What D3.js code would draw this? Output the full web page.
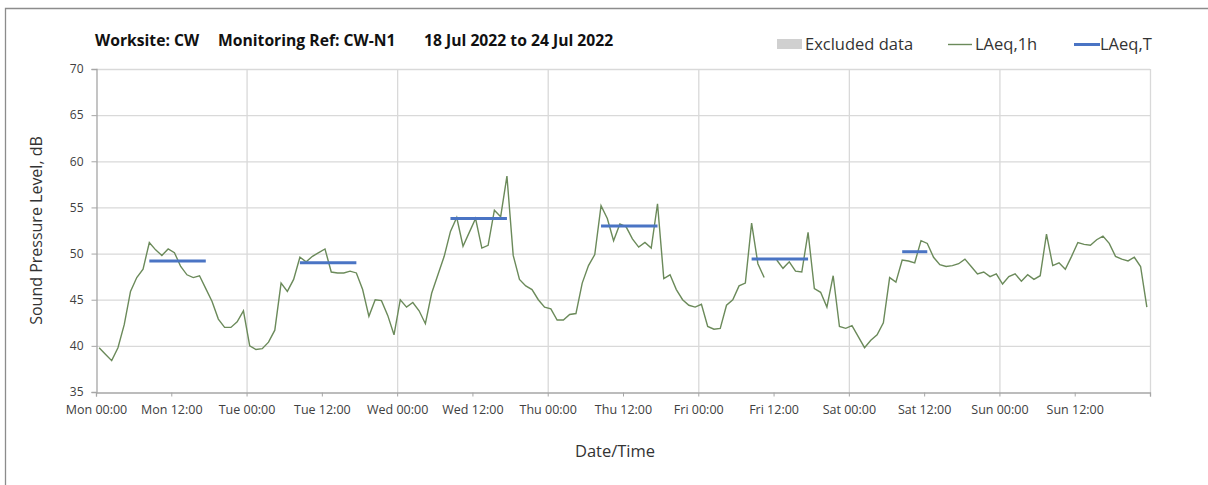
<!DOCTYPE html>
<html lang="en">
<head>
<meta charset="utf-8">
<title>CW-N1 Sound Pressure Level</title>
<script src="https://d3js.org/d3.v7.min.js"></script>
<style>
body { margin: 0; background: #fff; }
text { font-family: "Open Sans", sans-serif; }
</style>
</head>
<body>
<div id="plot"></div>
<script>
// LAeq,1h for each hour 00:00 .. 23:00, one array per day (null = no data)
var mon = [39.8, 39.1, 38.4, 39.8, 42.3, 45.9, 47.4, 48.3, 51.2, 50.4, 49.8, 50.5, 50.1, 48.6, 47.7, 47.4, 47.6, 46.2, 44.8, 42.9, 42.0, 42.0, 42.6, 43.8];
var tue = [40.0, 39.6, 39.7, 40.4, 41.7, 46.8, 45.9, 47.2, 49.6, 49.1, 49.7, 50.1, 50.5, 48.0, 47.9, 47.9, 48.1, 47.9, 46.1, 43.2, 45.0, 44.9, 43.3, 41.2];
var wed = [45.0, 44.2, 44.7, 43.8, 42.4, 45.7, 47.7, 49.7, 52.4, 53.9, 50.8, 52.3, 53.8, 50.6, 50.9, 54.7, 54.0, 58.4, 49.8, 47.2, 46.5, 46.1, 45.0, 44.2];
var thu = [44.0, 42.8, 42.8, 43.4, 43.5, 46.8, 48.7, 49.9, 55.2, 53.8, 51.4, 53.2, 52.9, 51.6, 50.7, 51.2, 50.6, 55.4, 47.3, 47.7, 46.1, 45.0, 44.4, 44.2];
var fri = [44.5, 42.1, 41.8, 41.9, 44.4, 45.0, 46.5, 46.8, 53.3, 48.9, 47.4, null, 49.3, 48.4, 49.1, 48.1, 48.0, 52.3, 46.2, 45.8, 44.2, 47.6, 42.1, 41.9];
var sat = [42.2, 41.0, 39.8, 40.6, 41.2, 42.5, 47.4, 46.9, 49.3, 49.2, 49.0, 51.4, 51.1, 49.6, 48.8, 48.6, 48.7, 48.9, 49.4, 48.6, 47.8, 48.0, 47.5, 47.8];
var sun = [46.7, 47.5, 47.8, 47.0, 47.7, 47.2, 47.6, 52.1, 48.7, 49.0, 48.3, 49.7, 51.2, 51.0, 50.9, 51.5, 51.9, 51.1, 49.7, 49.4, 49.2, 49.6, 48.6, 44.2];
var week = [mon, tue, wed, thu, fri, sat, sun];

// LAeq,T over the daytime period (day index from Monday, start/end hour)
var periodDay = [0, 1, 2, 3, 4, 5];
var periodStart = [8, 8, 8, 8, 8, 8];
var periodEnd = [18, 18, 18, 18, 18, 13];
var periodLevel = [49.2, 49.0, 53.8, 53.0, 49.4, 50.2];

// no excluded periods this week
var excluded = [];

var yTicks = [35, 40, 45, 50, 55, 60, 65, 70];

var width = 1208, height = 485;
var plotL = 96, plotR = 1150, plotT = 69, plotB = 392;

var svg = d3.select("#plot").append("svg")
  .attr("width", width).attr("height", height);

// frame
svg.append("path")
  .attr("d", "M5.5," + height + "V8.5H" + width)
  .attr("fill", "none").attr("stroke", "#8c8c8c").attr("stroke-width", 1.3);

var t0 = new Date(2022, 6, 18, 0, 0);
var t1 = new Date(2022, 6, 25, 0, 0);
var x = d3.scaleTime().domain([t0, t1]).range([plotL, plotR]);
var y = d3.scaleLinear().domain([35, 70]).range([plotB, plotT]);

// points sit in the middle of each hour
function hourMid(day, h) {
  return d3.timeMinute.offset(t0, (day * 24 + h) * 60 + 30);
}

var pts = [];
week.forEach(function(vals, d) {
  vals.forEach(function(v, h) {
    pts.push({t: hourMid(d, h), v: v});
  });
});

// grid
var grid = svg.append("g");
grid.selectAll("line.h")
  .data(yTicks.slice(1))
  .enter().append("line")
  .attr("x1", plotL).attr("x2", plotR)
  .attr("y1", d => y(d) + 0.5).attr("y2", d => y(d) + 0.5)
  .attr("stroke", "#d9d9d9").attr("stroke-width", 1.3);
grid.selectAll("line.v")
  .data(d3.timeDay.range(d3.timeDay.offset(t0, 1), d3.timeDay.offset(t1, 1)))
  .enter().append("line")
  .attr("x1", d => x(d) + 0.5).attr("x2", d => x(d) + 0.5)
  .attr("y1", plotT).attr("y2", plotB)
  .attr("stroke", "#d9d9d9").attr("stroke-width", 1.3);

// excluded data shading
svg.selectAll("rect.excl")
  .data(excluded)
  .enter().append("rect")
  .attr("x", d => x(d[0])).attr("width", d => x(d[1]) - x(d[0]))
  .attr("y", plotT).attr("height", plotB - plotT)
  .attr("fill", "#d0d0d0");

// y axis
var yAxis = svg.append("g")
  .attr("transform", "translate(" + (plotL + 0.5) + ",0)")
  .call(d3.axisLeft(y).tickValues(yTicks).tickSize(5).tickPadding(8));
yAxis.select(".domain").attr("stroke", "#a6a6a6").attr("stroke-width", 1.3);
yAxis.selectAll(".tick line").attr("stroke", "#a6a6a6");
yAxis.selectAll(".tick text")
  .attr("font-family", "Lato, sans-serif").attr("font-size", 12).attr("fill", "#404040");

// x axis
var xTicks = d3.timeHour.every(12).range(t0, d3.timeHour.offset(t1, 1));
var xAxis = svg.append("g")
  .attr("transform", "translate(0," + (plotB + 0.5) + ")")
  .call(d3.axisBottom(x).tickValues(xTicks).tickSize(4).tickPadding(9)
    .tickFormat(d => +d === +t1 ? "" : d3.timeFormat("%a %H:%M")(d)));
xAxis.select(".domain").attr("stroke", "#a6a6a6").attr("stroke-width", 1.3);
xAxis.selectAll(".tick line").attr("stroke", "#a6a6a6");
xAxis.selectAll(".tick text")
  .attr("font-family", "Lato, sans-serif").attr("font-size", 12.5).attr("fill", "#404040");

// LAeq,1h
var line = d3.line()
  .defined(d => d.v != null)
  .x(d => x(d.t)).y(d => y(d.v));
svg.append("path")
  .datum(pts)
  .attr("d", line)
  .attr("fill", "none").attr("stroke", "#6b8a5a").attr("stroke-width", 1.4);

// LAeq,T
svg.selectAll("line.period")
  .data(periodDay)
  .enter().append("line")
  .attr("x1", (d, i) => x(hourMid(d, periodStart[i])))
  .attr("x2", (d, i) => x(hourMid(d, periodEnd[i] - 1)))
  .attr("y1", (d, i) => y(periodLevel[i]))
  .attr("y2", (d, i) => y(periodLevel[i]))
  .attr("stroke", "#4a74c4").attr("stroke-width", 3);

// titles
var title = svg.append("g").attr("font-family", "Lato, sans-serif")
  .attr("font-weight", "bold").attr("font-size", 15.7).attr("fill", "#111");
title.append("text").attr("x", 95).attr("y", 46).text("Worksite: CW");
title.append("text").attr("x", 218).attr("y", 46).text("Monitoring Ref: CW-N1");
title.append("text").attr("x", 424).attr("y", 46).text("18 Jul 2022 to 24 Jul 2022");

svg.append("text")
  .attr("transform", "translate(42," + ((plotT + plotB) / 2) + ") rotate(-90)")
  .attr("text-anchor", "middle").attr("font-size", 16).attr("fill", "#333")
  .text("Sound Pressure Level, dB");

svg.append("text")
  .attr("x", 615).attr("y", 457)
  .attr("text-anchor", "middle").attr("font-size", 16.5).attr("fill", "#333")
  .text("Date/Time");

// legend
var lg = svg.append("g").attr("font-size", 16.5).attr("fill", "#333");
lg.append("rect").attr("x", 777).attr("y", 39).attr("width", 25).attr("height", 10).attr("fill", "#d0d0d0");
lg.append("text").attr("x", 805).attr("y", 50).text("Excluded data");
lg.append("line").attr("x1", 948).attr("x2", 972).attr("y1", 44.5).attr("y2", 44.5)
  .attr("stroke", "#6b8a5a").attr("stroke-width", 1.4);
lg.append("text").attr("x", 975).attr("y", 50).text("LAeq,1h");
lg.append("line").attr("x1", 1074).attr("x2", 1100).attr("y1", 44.5).attr("y2", 44.5)
  .attr("stroke", "#4a74c4").attr("stroke-width", 3);
lg.append("text").attr("x", 1100).attr("y", 50).text("LAeq,T");
</script>
</body>
</html>
